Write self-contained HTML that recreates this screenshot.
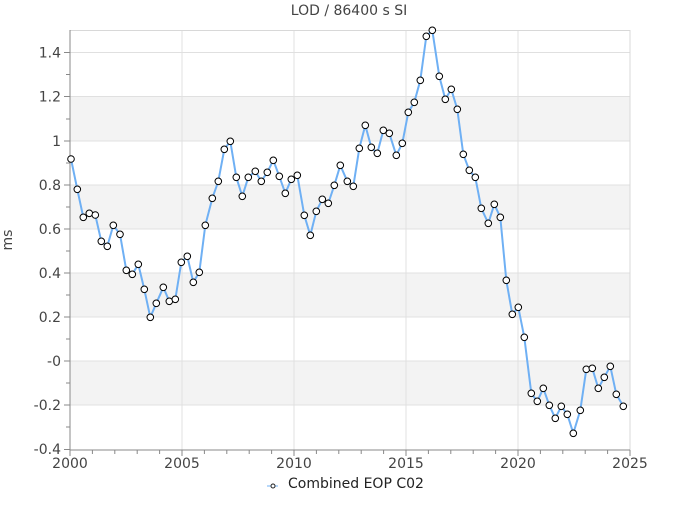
<!DOCTYPE html>
<html><head><meta charset="utf-8"><style>
body{margin:0;background:#fff}
svg{font-family:"DejaVu Sans","Liberation Sans",sans-serif}
</style></head><body>
<svg width="700" height="500" viewBox="0 0 700 500" xmlns="http://www.w3.org/2000/svg">
<g fill="#f3f3f3">
<rect x="70" y="96.5" width="560" height="44.5"/>
<rect x="70" y="185" width="560" height="44"/>
<rect x="70" y="273" width="560" height="44"/>
<rect x="70" y="361" width="560" height="44"/>
</g>
<g stroke="#e0e0e0" stroke-width="1">
<line x1="70" x2="630" y1="52.5" y2="52.5"/><line x1="70" x2="630" y1="96.5" y2="96.5"/>
<line x1="70" x2="630" y1="141" y2="141"/><line x1="70" x2="630" y1="185" y2="185"/>
<line x1="70" x2="630" y1="229" y2="229"/><line x1="70" x2="630" y1="273" y2="273"/>
<line x1="70" x2="630" y1="317" y2="317"/><line x1="70" x2="630" y1="361" y2="361"/>
<line x1="70" x2="630" y1="405" y2="405"/>
<line x1="182" x2="182" y1="30" y2="450"/><line x1="294" x2="294" y1="30" y2="450"/>
<line x1="406" x2="406" y1="30" y2="450"/><line x1="518" x2="518" y1="30" y2="450"/>
</g>
<rect x="70" y="30.5" width="560" height="419.5" fill="none" stroke="#d8d8d8"/>
<g stroke="#888">
<line x1="70" x2="630" y1="450" y2="450"/><line x1="70" x2="70" y1="30" y2="450"/>
</g>
<g stroke="#888">
<line x1="64" x2="70" y1="52.5" y2="52.5"/><line x1="66" x2="70" y1="74.5" y2="74.5"/>
<line x1="64" x2="70" y1="96.5" y2="96.5"/><line x1="66" x2="70" y1="119" y2="119"/>
<line x1="64" x2="70" y1="141" y2="141"/><line x1="66" x2="70" y1="163" y2="163"/>
<line x1="64" x2="70" y1="185" y2="185"/><line x1="66" x2="70" y1="207" y2="207"/>
<line x1="64" x2="70" y1="229" y2="229"/><line x1="66" x2="70" y1="251" y2="251"/>
<line x1="64" x2="70" y1="273" y2="273"/><line x1="66" x2="70" y1="295" y2="295"/>
<line x1="64" x2="70" y1="317" y2="317"/><line x1="66" x2="70" y1="339" y2="339"/>
<line x1="64" x2="70" y1="361" y2="361"/><line x1="66" x2="70" y1="383" y2="383"/>
<line x1="64" x2="70" y1="405" y2="405"/><line x1="66" x2="70" y1="427" y2="427"/>
<line x1="64" x2="70" y1="449.5" y2="449.5"/>
</g>
<g stroke="#888">
<line x1="70" x2="70" y1="450" y2="456"/><line x1="182" x2="182" y1="450" y2="456"/>
<line x1="294" x2="294" y1="450" y2="456"/><line x1="406" x2="406" y1="450" y2="456"/>
<line x1="518" x2="518" y1="450" y2="456"/><line x1="630" x2="630" y1="450" y2="456"/>
<line x1="92.4" x2="92.4" y1="450" y2="454"/><line x1="114.8" x2="114.8" y1="450" y2="454"/><line x1="137.2" x2="137.2" y1="450" y2="454"/><line x1="159.6" x2="159.6" y1="450" y2="454"/>
<line x1="204.4" x2="204.4" y1="450" y2="454"/><line x1="226.8" x2="226.8" y1="450" y2="454"/><line x1="249.2" x2="249.2" y1="450" y2="454"/><line x1="271.6" x2="271.6" y1="450" y2="454"/>
<line x1="316.4" x2="316.4" y1="450" y2="454"/><line x1="338.8" x2="338.8" y1="450" y2="454"/><line x1="361.2" x2="361.2" y1="450" y2="454"/><line x1="383.6" x2="383.6" y1="450" y2="454"/>
<line x1="428.4" x2="428.4" y1="450" y2="454"/><line x1="450.8" x2="450.8" y1="450" y2="454"/><line x1="473.2" x2="473.2" y1="450" y2="454"/><line x1="495.6" x2="495.6" y1="450" y2="454"/>
<line x1="540.4" x2="540.4" y1="450" y2="454"/><line x1="562.8" x2="562.8" y1="450" y2="454"/><line x1="585.2" x2="585.2" y1="450" y2="454"/><line x1="607.6" x2="607.6" y1="450" y2="454"/>
</g>
<g fill="#444" font-size="14" text-anchor="end">
<text x="61" y="57.5">1.4</text><text x="61" y="101.5">1.2</text><text x="61" y="146">1</text>
<text x="61" y="190">0.8</text><text x="61" y="234">0.6</text><text x="61" y="278">0.4</text>
<text x="61" y="322">0.2</text><text x="61" y="366">-0</text><text x="61" y="410">-0.2</text>
<text x="61" y="454">-0.4</text>
</g>
<g fill="#444" font-size="14" text-anchor="middle">
<text x="70" y="468">2000</text><text x="182" y="468">2005</text><text x="294" y="468">2010</text>
<text x="406" y="468">2015</text><text x="518" y="468">2020</text><text x="630" y="468">2025</text>
<text x="349" y="15">LOD / 86400 s SI</text>
<text x="0" y="0" transform="translate(12,240) rotate(-90)">ms</text>
</g>
<text x="288" y="488" font-size="14" fill="#222">Combined EOP C02</text>
<line x1="267" x2="278" y1="486" y2="486" stroke="#6fb0f4"/>
<circle cx="273" cy="486" r="2" fill="#fff" stroke="#222"/>
<polyline fill="none" stroke="#6fb0f4" stroke-width="2" points="71,159 77.3,189.3 83.3,217.3 89.3,213.3 95.3,215 101.3,241.3 107.3,246.3 113.3,225.3 120,234.3 126.3,270.3 132.3,274.3 138.3,264.3 144.3,289.3 150.3,317.3 156.3,303.3 163.3,287.3 169.3,301.3 175.3,299.3 181.3,262.3 187.3,256.3 193.3,282.3 199.3,272.3 205.3,225.3 212.3,198.3 218.3,181.3 224.3,149.3 230.3,141.3 236.3,177.3 242.3,196.3 248.3,177.3 255.3,171.3 261.3,181.3 267.3,172.3 273.3,160.3 279.3,176.3 285.3,193.3 291.3,179.3 297.3,175.3 304.3,215.3 310.3,235.3 316.3,211.3 322.3,199.3 328.3,203.3 334.3,185.3 340.3,165.3 347.3,181.3 353.3,186.3 359.3,148.3 365.3,125.3 371.3,147.3 377.3,153.3 383.3,130.3 389.3,133.3 396.3,155.3 402.3,143.3 408.3,112.3 414.3,102.3 420.3,80.3 426.3,36.3 432.3,30.3 439.3,76.3 445.3,99.3 451.3,89.3 457.3,109.3 463.3,154.3 469.3,170.3 475.3,177.3 481.3,208.3 488.3,223.3 494.3,204.3 500.3,217.3 506.3,280.3 512.3,314.3 518.3,307.3 524.3,337.3 531.3,393.3 537.3,401.3 543.3,388.3 549.3,405.3 555.3,418.3 561.3,406.3 567.3,414.3 573.3,433.3 580.3,410.3 586.3,369.3 592.3,368.3 598.3,388.3 604.3,377.3 610.3,366.3 616.3,394.3 623.3,406.3"/>
<g id="pts" fill="#fff" stroke="#000" stroke-width="1"></g>
<script>
var p=document.querySelector('polyline').getAttribute('points').trim().split(/\s+/);
var g=document.getElementById('pts');
p.forEach(function(s){var a=s.split(',');var c=document.createElementNS('http://www.w3.org/2000/svg','circle');c.setAttribute('cx',a[0]);c.setAttribute('cy',a[1]);c.setAttribute('r','3.3');g.appendChild(c);});
</script>
</svg>
</body></html>
